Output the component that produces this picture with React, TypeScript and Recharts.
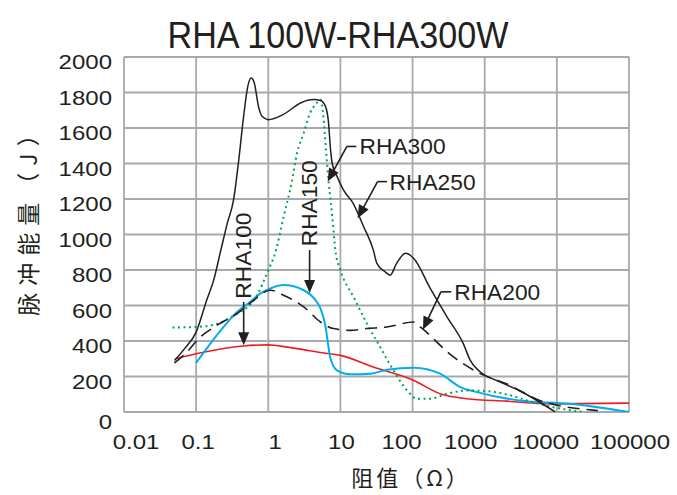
import React from 'react';
import { LineChart, Line, XAxis, YAxis, CartesianGrid, ReferenceLine, ReferenceDot } from 'recharts';

// ---- axes ----
const resistanceTicks = [0.01, 0.1, 1, 10, 100, 1000, 10000, 100000];
const resistanceLabels = ['0.01', '0.1', '1', '10', '100', '1000', '10000', '100000'];
const energyTicks = [0, 200, 400, 600, 800, 1000, 1200, 1400, 1600, 1800, 2000];

// ---- series (resistance Ω, pulse energy J) ----
const rha250R = [0.05, 0.07, 0.1, 0.14, 0.175, 0.22, 0.27, 0.33, 0.39, 0.455, 0.52, 0.578, 0.64, 0.73, 0.82, 1.0, 1.6, 2.8, 4.25, 5.3, 6.2, 6.8, 7.3, 7.7, 9.0, 11, 15, 21, 28.6, 32, 41.6, 49, 60, 80, 104, 176, 300, 505, 630, 870, 1450, 3000, 5800, 9500];
const rha250E = [290, 360, 450, 630, 743, 912, 1063, 1195, 1421, 1666, 1835, 1882, 1854, 1722, 1666, 1647, 1675, 1741, 1760, 1755, 1722, 1640, 1477, 1400, 1326, 1251, 1176, 1044, 912, 837, 790, 771, 837, 894, 865, 696, 536, 385, 291, 225, 178, 121, 55, 0];

const rha300R = [0.047, 0.1, 0.2, 0.37, 0.56, 0.7, 0.96, 1.28, 1.63, 2.1, 2.5, 3.1, 3.8, 4.5, 5.3, 5.8, 6.3, 6.9, 7.7, 8.5, 10, 15.2, 23.3, 35.5, 54.5, 84, 115, 176, 300, 570, 1070, 2000, 4700, 9000, 23000];
const rha300E = [476, 479, 498, 555, 605, 658, 782, 912, 1100, 1289, 1459, 1572, 1685, 1732, 1760, 1666, 1477, 1289, 1100, 912, 800, 648, 498, 366, 234, 121, 75, 75, 103, 121, 117, 99, 55, 27, 0];

const rha200R = [0.05, 0.071, 0.115, 0.195, 0.37, 0.56, 1.07, 1.63, 3.1, 5.3, 8, 13.6, 23, 44, 104, 128, 370, 870, 2000, 5800, 37000];
const rha200E = [276, 329, 423, 489, 555, 613, 686, 658, 592, 507, 470, 460, 470, 479, 507, 479, 310, 216, 159, 65, 8];

const rha150R = [0.1, 0.24, 0.37, 0.56, 0.78, 1.07, 1.63, 3.1, 4.7, 5.3, 6.1, 7.3, 9, 13.6, 26, 44, 104, 240, 460, 780, 3000, 15000, 100000];
const rha150E = [276, 479, 564, 620, 668, 696, 715, 686, 620, 583, 498, 300, 234, 212, 216, 238, 250, 216, 140, 112, 65, 46, 0];

const rha100R = [0.052, 0.1, 0.2, 0.45, 0.96, 2.5, 5.3, 10, 28.6, 104, 240, 560, 2000, 9000, 100000];
const rha100E = [300, 328, 352, 372, 378, 357, 335, 319, 253, 178, 103, 75, 61, 46, 50];

// ---- annotation anchors (data coordinates) ----
const seriesNames = ['RHA100', 'RHA150', 'RHA200', 'RHA250', 'RHA300'];
const arrowFrom = [
  { x: 0.456, y: 620 },
  { x: 3.74, y: 912 },
  { x: 247, y: 677 },
  { x: 32.7, y: 1298 },
  { x: 12.3, y: 1496 },
];
const arrowTo = [
  { x: 0.456, y: 376 },
  { x: 3.74, y: 671 },
  { x: 139, y: 464 },
  { x: 17.3, y: 1092 },
  { x: 6.65, y: 1298 },
];
const leaderEnd = [null, null, { x: 343, y: 677 }, { x: 44.2, y: 1298 }, { x: 16.6, y: 1496 }];
const labelAt = [
  { x: 0.456, y: 881 },
  { x: 3.74, y: 1176 },
  { x: 378, y: 673 },
  { x: 48, y: 1293 },
  { x: 18.4, y: 1494 },
];
const labelVertical = [true, true, false, false, false];

const toPoints = (xs: number[], ys: number[]) => xs.map((x, i) => ({ x, y: ys[i] }));

const INK = '#231f20';
const FONT = '"Liberation Sans", Arial, sans-serif';
const CJK = '"Noto Sans CJK SC", sans-serif';

const charW = (s: string) =>
  [...s].reduce((a, c) => a + (c === '.' ? 0.278 : c === 'R' || c === 'H' ? 0.722 : c === 'A' ? 0.667 : 0.556), 0);

const xTickShift = [12, 2, 7, 1, -11, -14, -11, 1];

const XTick = (props: any) => {
  const { x, y, payload } = props;
  const i = resistanceTicks.indexOf(payload.value);
  const label = resistanceLabels[i] ?? String(payload.value);
  const fs = 20;
  return (
    <text
      x={x + (xTickShift[i] || 0)}
      y={y + 30}
      textAnchor="middle"
      dominantBaseline="central"
      fontSize={fs}
      fontFamily={FONT}
      fill={INK}
      textLength={charW(label) * fs * 1.2}
      lengthAdjust="spacingAndGlyphs"
    >
      {label}
    </text>
  );
};

const YTick = (props: any) => {
  const { x, y, payload } = props;
  const label = String(payload.value);
  const fs = 20;
  return (
    <text
      x={x}
      y={y + (payload.value === 0 ? 10 : 5)}
      textAnchor="end"
      dominantBaseline="central"
      fontSize={fs}
      fontFamily={FONT}
      fill={INK}
      textLength={charW(label) * fs * 1.2}
      lengthAdjust="spacingAndGlyphs"
    >
      {label}
    </text>
  );
};

const ArrowShape = (props: any) => {
  const { x1, y1, x2, y2 } = props;
  const dx = x2 - x1;
  const dy = y2 - y1;
  const len = Math.hypot(dx, dy) || 1;
  const ux = dx / len;
  const uy = dy / len;
  const L = 13;
  const W = 5.5;
  const bx = x2 - ux * L;
  const by = y2 - uy * L;
  const pts = `${x2},${y2} ${bx - uy * W},${by + ux * W} ${bx + uy * W},${by - ux * W}`;
  return (
    <g>
      <line x1={x1} y1={y1} x2={bx + ux * 2} y2={by + uy * 2} stroke={INK} strokeWidth={1.6} />
      <polygon points={pts} fill={INK} />
    </g>
  );
};

const makeLabel = (text: string, vertical: boolean) => (p: any) => {
  const { cx, cy } = p;
  const fs = 22;
  if (vertical) {
    return (
      <text
        x={cx}
        y={cy}
        transform={`rotate(-90 ${cx} ${cy})`}
        textAnchor="middle"
        dominantBaseline="central"
        fontSize={fs}
        fontFamily={FONT}
        fill={INK}
        textLength={86}
        lengthAdjust="spacingAndGlyphs"
      >
        {text}
      </text>
    );
  }
  return (
    <text
      x={cx}
      y={cy}
      textAnchor="start"
      dominantBaseline="central"
      fontSize={fs}
      fontFamily={FONT}
      fill={INK}
      textLength={86}
      lengthAdjust="spacingAndGlyphs"
    >
      {text}
    </text>
  );
};

export default function App() {
  return (
    <div style={{ position: 'absolute', left: 0, top: 0, width: 677, height: 495, background: '#fff' }}>
      <LineChart width={677} height={495} margin={{ top: 57, right: 48, left: 0, bottom: 43 }}>
        <CartesianGrid stroke="#a7a9ac" strokeWidth={1.8} />
        <XAxis
          dataKey="x"
          type="number"
          scale="log"
          domain={[0.01, 100000]}
          ticks={resistanceTicks}
          interval={0}
          allowDataOverflow
          axisLine={false}
          tickLine={false}
          tickSize={0}
          tickMargin={0}
          height={40}
          tick={<XTick />}
        />
        <YAxis
          type="number"
          domain={[0, 2000]}
          ticks={energyTicks}
          interval={0}
          allowDataOverflow
          axisLine={false}
          tickLine={false}
          tickSize={0}
          tickMargin={12}
          width={124}
          tick={<YTick />}
        />
        <Line data={toPoints(rha100R, rha100E)} dataKey="y" type="monotone" stroke="#ed1c24" strokeWidth={1.6} dot={false} isAnimationActive={false} />
        <Line data={toPoints(rha150R, rha150E)} dataKey="y" type="monotone" stroke="#00aeef" strokeWidth={2} dot={false} isAnimationActive={false} />
        <Line data={toPoints(rha300R, rha300E)} dataKey="y" type="monotone" stroke="#00a651" strokeWidth={2} strokeDasharray="2 3.5" dot={false} isAnimationActive={false} />
        <Line data={toPoints(rha200R, rha200E)} dataKey="y" type="monotone" stroke={INK} strokeWidth={1.6} strokeDasharray="12 7" dot={false} isAnimationActive={false} />
        <Line data={toPoints(rha250R, rha250E)} dataKey="y" type="monotone" stroke={INK} strokeWidth={1.5} dot={false} isAnimationActive={false} />
        {seriesNames.map((name, i) => (
          <ReferenceLine
            key={'a' + name}
            segment={[arrowFrom[i], arrowTo[i]]}
            shape={<ArrowShape />}
            ifOverflow="visible"
          />
        ))}
        {seriesNames.map((name, i) =>
          leaderEnd[i] ? (
            <ReferenceLine
              key={'l' + name}
              segment={[arrowFrom[i], leaderEnd[i] as any]}
              stroke={INK}
              strokeWidth={1.6}
              ifOverflow="visible"
            />
          ) : null
        )}
        {seriesNames.map((name, i) => (
          <ReferenceDot
            key={'t' + name}
            x={labelAt[i].x}
            y={labelAt[i].y}
            r={0}
            ifOverflow="visible"
            shape={makeLabel(name, labelVertical[i])}
          />
        ))}
      </LineChart>
      <svg width={677} height={495} style={{ position: 'absolute', left: 0, top: 0, pointerEvents: 'none' }}>
        <text x={338} y={48} textAnchor="middle" fontSize={37} fontFamily={FONT} fill={INK} textLength={341} lengthAdjust="spacingAndGlyphs">
          RHA 100W-RHA300W
        </text>
        <text x={411} y={476} textAnchor="middle" dominantBaseline="central" fontSize={22} letterSpacing={3} fontFamily={CJK} fill={INK}>
          阻值（Ω）
        </text>
        <text x={27} y={216} transform="rotate(-90 27 216)" textAnchor="middle" dominantBaseline="central" fontSize={23} letterSpacing={7} fontFamily={CJK} fill={INK}>
          脉冲能量（J）
        </text>
      </svg>
    </div>
  );
}
